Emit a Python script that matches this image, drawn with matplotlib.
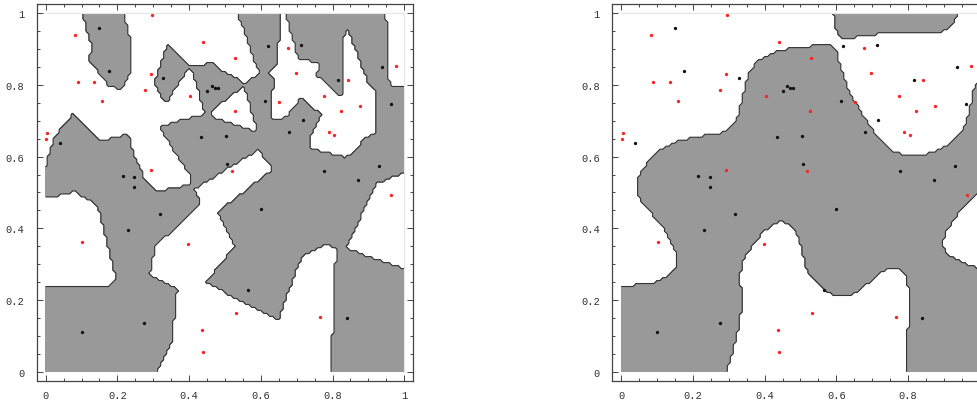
import numpy as np
import matplotlib.pyplot as plt

red_x = [0.296, 0.082, 0.440, 0.293, 0.089, 0.136, 0.276, 0.158, 0.403, 0.004,
         0.002, 0.293, 0.529, 0.677, 0.697, 0.842, 0.976, 0.651, 0.776, 0.527,
         0.823, 0.876, 0.790, 0.804, 0.519, 0.963, 0.102, 0.397, 0.436, 0.440,
         0.532, 0.765]
red_y = [0.995, 0.939, 0.921, 0.830, 0.809, 0.809, 0.786, 0.756, 0.770, 0.665,
         0.648, 0.563, 0.876, 0.902, 0.833, 0.815, 0.853, 0.753, 0.769, 0.728,
         0.728, 0.741, 0.668, 0.660, 0.559, 0.493, 0.363, 0.356, 0.117, 0.054,
         0.164, 0.153]
black_x = [0.150, 0.176, 0.328, 0.451, 0.463, 0.472, 0.480, 0.039, 0.434, 0.215,
           0.247, 0.247, 0.619, 0.712, 0.816, 0.937, 0.612, 0.962, 0.717, 0.679,
           0.503, 0.506, 0.777, 0.930, 0.872, 0.318, 0.230, 0.275, 0.101, 0.600,
           0.565, 0.839]
black_y = [0.959, 0.840, 0.819, 0.784, 0.797, 0.791, 0.791, 0.637, 0.654, 0.547,
           0.543, 0.514, 0.908, 0.912, 0.815, 0.851, 0.755, 0.746, 0.703, 0.668,
           0.657, 0.580, 0.560, 0.575, 0.536, 0.440, 0.395, 0.137, 0.111, 0.455,
           0.227, 0.150]

tick_values = [0, 0.2, 0.4, 0.6, 0.8, 1]
tick_labels = ["0", "0.2", "0.4", "0.6", "0.8", "1"]

rx, ry = np.array(red_x), np.array(red_y)
bx, by = np.array(black_x), np.array(black_y)

grid = np.linspace(0, 1, 121)
gx, gy = np.meshgrid(grid, grid)


def sqdist(px, py):
    return (gx[..., None] - px) ** 2 + (gy[..., None] - py) ** 2


def nearest_neighbour():
    return (sqdist(bx, by).min(-1) < sqdist(rx, ry).min(-1)).astype(float)


def kernel(sigma):
    kb = np.exp(-sqdist(bx, by) / (2 * sigma ** 2)).sum(-1)
    kr = np.exp(-sqdist(rx, ry) / (2 * sigma ** 2)).sum(-1)
    return (kb > kr).astype(float)


def draw(ax, z):
    ax.contourf(gx, gy, z, levels=[0.5, 1.5], colors=["#999999"])
    ax.contour(gx, gy, z, levels=[0.5], colors="#333333", linewidths=0.8)
    ax.plot([0, 1], [1, 1], color="#e6e6e6", lw=0.8)
    ax.plot([1, 1], [0, 1], color="#e6e6e6", lw=0.8)
    ax.plot(rx, ry, "o", color="#ff2020", ms=2.4, mew=0)
    ax.plot(bx, by, "o", color="#111111", ms=2.4, mew=0)
    ax.set_xlim(-0.025, 1.025)
    ax.set_ylim(-0.027, 1.026)
    ax.set_xticks(tick_values)
    ax.set_xticklabels(tick_labels)
    ax.set_yticks(tick_values)
    ax.set_yticklabels(tick_labels)
    ax.set_xticks(np.arange(0, 1.01, 0.05), minor=True)
    ax.set_yticks(np.arange(0, 1.01, 0.05), minor=True)
    ax.tick_params(which="both", direction="in", top=True, right=True,
                   color="#444444", width=0.7)
    ax.tick_params(which="major", length=4, labelsize=7.5, labelcolor="#333333")
    ax.tick_params(which="minor", length=2)
    ax.tick_params(axis="x", pad=6)
    ax.tick_params(axis="y", pad=9)
    for lab in ax.get_xticklabels() + ax.get_yticklabels():
        lab.set_family("Liberation Mono")
    for s in ax.spines.values():
        s.set_color("#444444")
        s.set_linewidth(0.9)


fig = plt.figure(figsize=(9.78, 4.02), dpi=100)
ax1 = fig.add_axes([0.0375, 0.049, 0.385, 0.9386])
ax2 = fig.add_axes([0.626, 0.049, 0.385, 0.9386])
draw(ax1, nearest_neighbour())
draw(ax2, kernel(0.09))
fig.savefig("out.png", dpi=100)
